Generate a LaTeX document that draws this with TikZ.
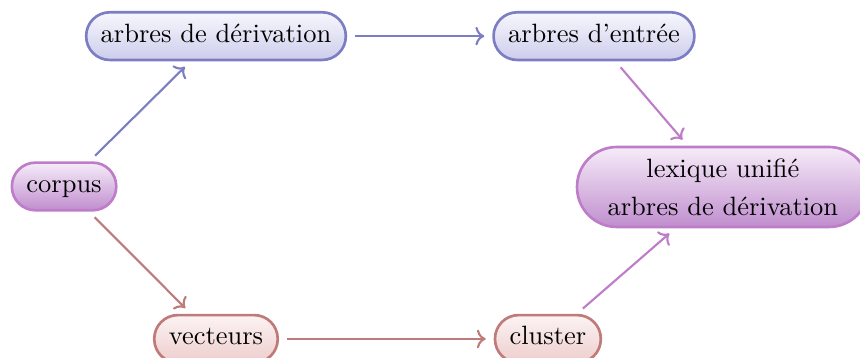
\documentclass[tikz,border=0pt]{standalone}
\usetikzlibrary{arrows.meta}
\definecolor{bluedraw}{RGB}{125,125,195}
\definecolor{bluetop}{RGB}{247,247,253}
\definecolor{bluebot}{RGB}{205,205,236}
\definecolor{purpdraw}{RGB}{190,125,200}
\definecolor{purptop}{RGB}{246,236,249}
\definecolor{purpbot}{RGB}{192,142,206}
\definecolor{reddraw}{RGB}{192,122,122}
\definecolor{redtop}{RGB}{252,243,243}
\definecolor{redbot}{RGB}{238,205,205}
\tikzset{
  pill/.style={draw, line width=1pt, rectangle, rounded corners=8.9pt,
    minimum height=18pt, inner xsep=5.5pt, text height=7pt, text depth=2.5pt},
  bluepill/.style={pill, draw=bluedraw, top color=bluetop, bottom color=bluebot},
  purppill/.style={pill, draw=purpdraw, top color=purptop, bottom color=purpbot},
  redpill/.style={pill, draw=reddraw, top color=redtop, bottom color=redbot},
  bigpill/.style={draw=purpdraw, line width=1pt, rectangle, rounded corners=15pt,
    minimum height=30.2pt, minimum width=110.2pt, align=center,
    top color=purptop, bottom color=purpbot},
  conn/.style={->, line width=0.8pt, shorten >=3pt, shorten <=3pt},
}
\begin{document}
\begin{tikzpicture}[x=1pt,y=1pt]
\useasboundingbox (0,0) rectangle (324.9,135.25);
\node[bluepill] (deriv) at (81.6,121.6) {arbres de dérivation};
\node[bluepill] (entree) at (224.4,121.6) {arbres d'entrée};
\node[purppill] (corpus) at (24.2,64.8) {corpus};
\node[bigpill] (lex) at (273.1,64.6) {lexique unifié\\[2.4pt]arbres de dérivation};
\node[redpill] (vect) at (81.6,7.2) {vecteurs};
\node[redpill] (clus) at (207.0,7.2) {cluster};
\draw[conn, bluedraw] (corpus) -- (deriv);
\draw[conn, bluedraw] (deriv) -- (entree);
\draw[conn, purpdraw] (entree) -- (lex);
\draw[conn, reddraw] (corpus) -- (vect);
\draw[conn, reddraw] (vect) -- (clus);
\draw[conn, purpdraw] (clus) -- (lex);
\end{tikzpicture}
\end{document}
